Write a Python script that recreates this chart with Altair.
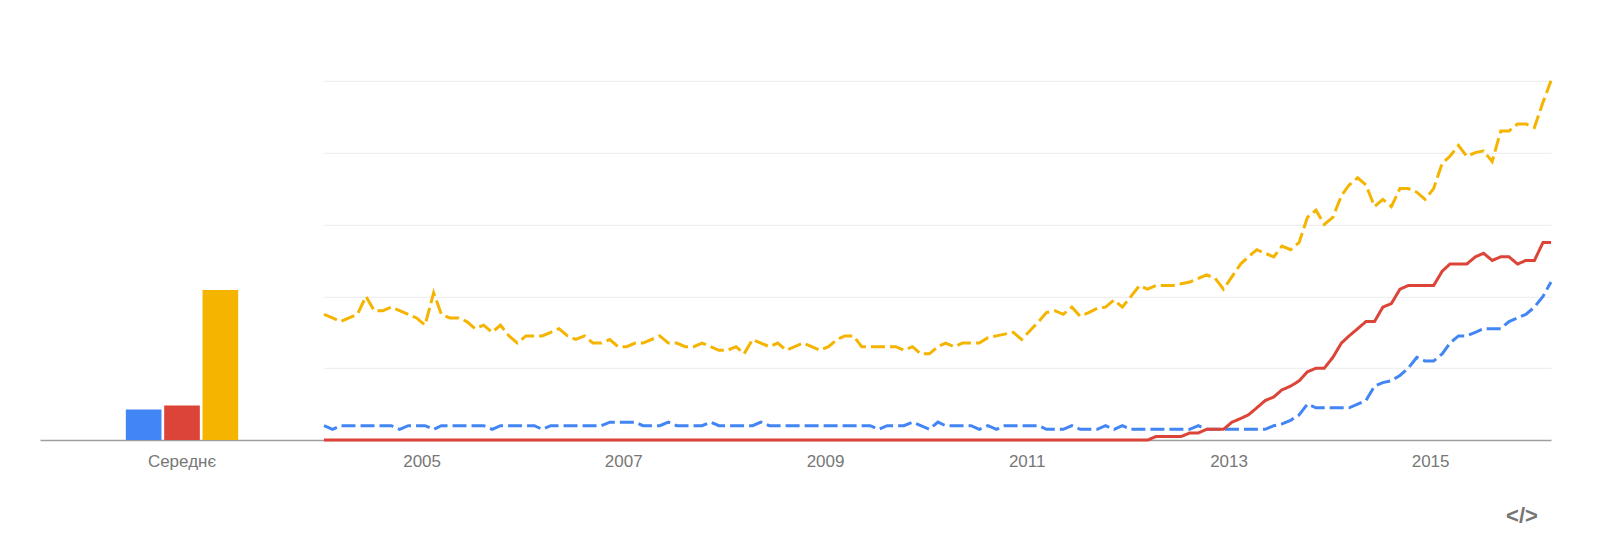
import altair as alt
import pandas as pd

# ---- data ----
series_names = ["Запит 1", "Запит 2", "Запит 3"]
series_colors = ["#4285F4", "#DB4437", "#F4B400"]
series_dash = [[14, 5], [1, 0], [14, 5]]

bar_category = "Середнє"
bar_values = [8.5, 9.6, 41.8]

first_month = "2004-01-01"
n_months = 147
tick_years = [2005, 2007, 2009, 2011, 2013, 2015]

# monthly values, Jan 2004 .. Mar 2016 (one row per year)
blue_values = [
    4, 3, 4, 4, 4, 4, 4, 4, 4, 3, 4, 4,
    4, 3, 4, 4, 4, 4, 4, 4, 3, 4, 4, 4,
    4, 4, 3, 4, 4, 4, 4, 4, 4, 4, 5, 5,
    5, 5, 4, 4, 4, 5, 4, 4, 4, 4, 5, 4,
    4, 4, 4, 4, 5, 4, 4, 4, 4, 4, 4, 4,
    4, 4, 4, 4, 4, 4, 3, 4, 4, 4, 5, 4,
    3, 5, 4, 4, 4, 4, 3, 4, 3, 4, 4, 4,
    4, 4, 3, 3, 3, 4, 3, 3, 3, 4, 3, 4,
    3, 3, 3, 3, 3, 3, 3, 3, 4, 3, 3, 3,
    3, 3, 3, 3, 3, 4, 4.5, 5.5, 7, 10, 9, 9,
    9, 9, 9, 10, 11, 15, 16, 16.5, 18, 20, 23, 22,
    22, 24, 27, 29, 29, 30, 31, 31, 31, 33, 34, 35,
    37, 40, 44,
]
red_values = [
    0, 0, 0, 0, 0, 0, 0, 0, 0, 0, 0, 0,
    0, 0, 0, 0, 0, 0, 0, 0, 0, 0, 0, 0,
    0, 0, 0, 0, 0, 0, 0, 0, 0, 0, 0, 0,
    0, 0, 0, 0, 0, 0, 0, 0, 0, 0, 0, 0,
    0, 0, 0, 0, 0, 0, 0, 0, 0, 0, 0, 0,
    0, 0, 0, 0, 0, 0, 0, 0, 0, 0, 0, 0,
    0, 0, 0, 0, 0, 0, 0, 0, 0, 0, 0, 0,
    0, 0, 0, 0, 0, 0, 0, 0, 0, 0, 0, 0,
    0, 0, 0, 1, 1, 1, 1, 2, 2, 3, 3, 3,
    5, 6, 7, 9, 11, 12, 14, 15, 16.5, 19, 20, 20,
    23, 27, 29, 31, 33, 33, 37, 38, 42, 43, 43, 43,
    43, 47, 49, 49, 49, 51, 52, 50, 51, 51, 49, 50,
    50, 55, 55,
]
yellow_values = [
    35, 34, 33, 34, 35, 40, 36, 36, 37, 36, 35, 34,
    32, 41, 35, 34, 34, 33, 31, 32, 30, 32, 29, 27,
    29, 29, 29, 30, 31, 29, 28, 29, 27, 27, 28, 26,
    26, 27, 27, 28, 29, 27, 27, 26, 26, 27, 26, 25,
    25, 26, 24, 28, 27, 26, 27, 25, 26, 27, 26, 25,
    26, 28, 29, 29, 26, 26, 26, 26, 26, 25, 26, 24,
    24, 26, 27, 26, 27, 27, 27, 28.5, 29, 29.5, 30, 28,
    30.5, 33, 35.5, 36, 35, 37, 34.5, 35.5, 36.7, 37, 39, 37,
    40, 43, 42, 43, 43, 43, 43.5, 44, 45, 46, 45, 42,
    45.5, 49, 51, 53, 52, 51, 54, 53, 55, 62, 64, 60,
    62, 68, 71, 73, 71, 65, 67, 65, 70, 70, 69, 67,
    70, 77, 79, 82, 79, 80, 80.5, 77.5, 86, 86, 88, 88,
    87, 94, 100,
]

# ---- tables ----
months = [d.strftime("%Y-%m-%d") for d in pd.date_range(first_month, periods=n_months, freq="MS")]
rows = []
for name, vals in zip(series_names, [blue_values, red_values, yellow_values]):
    for m, v in zip(months, vals):
        rows.append({"date": m, "value": v, "series": name})
line_df = pd.DataFrame(rows)

bar_df = pd.DataFrame({
    "group": [bar_category] * len(series_names),
    "series": series_names,
    "value": bar_values,
})

FONT = "Liberation Sans"
LABEL_COLOR = "#777777"
DOMAIN_COLOR = "#9e9e9e"
PLOT_H = 359.3

color_scale = alt.Scale(domain=series_names, range=series_colors)
y_scale = alt.Scale(domain=[0, 100], nice=False)

bars = alt.Chart(bar_df).mark_bar().encode(
    x=alt.X("group:N", title=None,
            scale=alt.Scale(paddingInner=0, paddingOuter=0.764),
            axis=alt.Axis(labelAngle=0, ticks=False, tickSize=0, labelPadding=13,
                          labelFont=FONT, labelFontSize=17, labelColor=LABEL_COLOR,
                          domainColor=DOMAIN_COLOR, domainWidth=1.5)),
    xOffset=alt.XOffset("series:N", sort=series_names,
                        scale=alt.Scale(paddingInner=0.07, paddingOuter=0)),
    y=alt.Y("value:Q", scale=y_scale, axis=None),
    color=alt.Color("series:N", scale=color_scale, legend=None),
).properties(width=284, height=PLOT_H)

lines = alt.Chart(line_df).mark_line(strokeWidth=3).encode(
    x=alt.X("date:T", title=None, scale=alt.Scale(type="utc"),
            axis=alt.Axis(values=[alt.DateTime(year=y, month=1, date=1, utc=True) for y in tick_years],
                          labelExpr="utcFormat(datum.value, '%Y')",
                          ticks=False, tickSize=0, labelPadding=13, labelOffset=-3.5,
                          labelFont=FONT, labelFontSize=17, labelColor=LABEL_COLOR,
                          domainColor=DOMAIN_COLOR, domainWidth=1.5, grid=False)),
    y=alt.Y("value:Q", scale=y_scale, title=None,
            axis=alt.Axis(values=[20, 40, 60, 80, 100], labels=False, ticks=False,
                          domain=False, grid=True, gridColor="#ebebeb", gridWidth=1)),
    color=alt.Color("series:N", scale=color_scale, legend=None),
    strokeDash=alt.StrokeDash("series:N", scale=alt.Scale(domain=series_names, range=series_dash),
                              legend=None),
)

icon = alt.Chart(pd.DataFrame({"t": ["</>"]})).mark_text(
    font=FONT, fontSize=22, fontWeight="bold", color="#757575", baseline="middle", align="center"
).encode(x=alt.value(1198), y=alt.value(435.5), text="t:N")

right = alt.layer(lines, icon).properties(width=1227, height=PLOT_H)

chart = alt.hconcat(bars, right, spacing=0, bounds="flush").properties(
    padding={"left": 32, "top": 66.8, "right": 10, "bottom": 10},
    background="white",
).configure_view(stroke=None)

chart.save("out.html", embed_options={"renderer": "svg", "actions": False})
